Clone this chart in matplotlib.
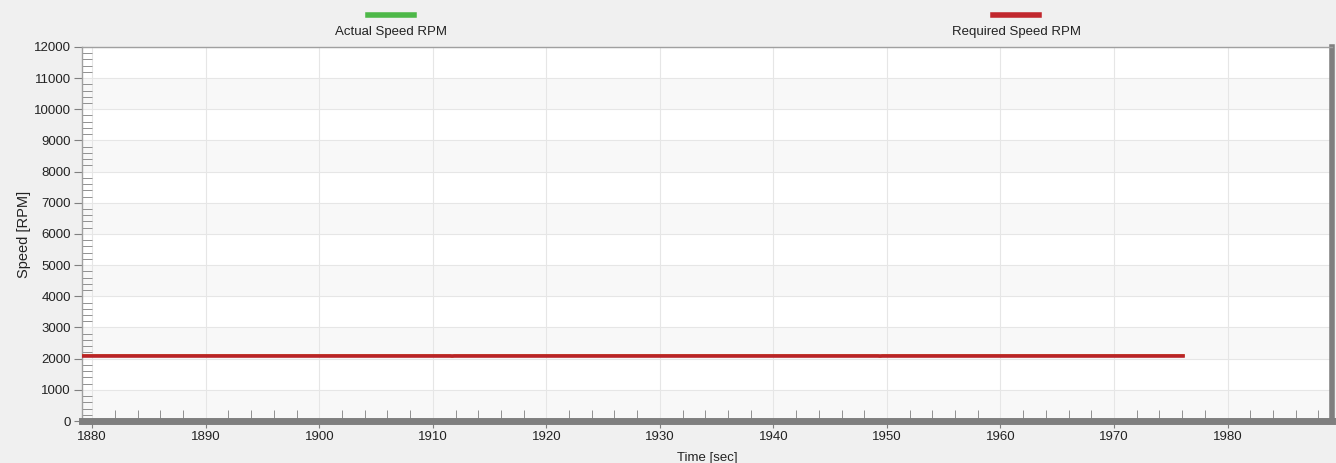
import numpy as np
import matplotlib.pyplot as plt
from matplotlib.lines import Line2D
from matplotlib.ticker import MultipleLocator

plt.rcParams['font.family'] = ['Liberation Sans', 'DejaVu Sans']

# speed traces (time in sec, speed in RPM)
req_time = [1879.0, 1976.1]
req_speed = [2100, 2100]
act_time = [1879.0, 1911.5, 1911.7, 1911.9, 1949.2, 1949.4, 1949.6, 1976.1]
act_speed = [2100, 2100, 2070, 2100, 2100, 2070, 2100, 2100]
labels = ["Actual Speed RPM", "Required Speed RPM"]
colors = ["#4db848", "#c1272d"]

fig = plt.figure(figsize=(13.36, 4.63), dpi=100, facecolor="#f0f0f0")
ax = fig.add_axes([0.0614, 0.0907, 0.9356, 0.808])
ax.set_facecolor("white")

# alternating bands
for y0 in range(0, 12000, 2000):
    ax.axhspan(y0, y0 + 1000, color="#f8f8f8", zorder=0, lw=0)

ax.plot(act_time, act_speed, color="#d9861f", lw=2.0, zorder=3)
ax.plot(req_time, req_speed, color="#b92328", lw=2.6, zorder=4)

ax.set_xlim(1879.1, 1989.2)
ax.set_ylim(0, 12000)
ax.xaxis.set_major_locator(MultipleLocator(10))
ax.xaxis.set_minor_locator(MultipleLocator(2))
ax.yaxis.set_major_locator(MultipleLocator(1000))
ax.yaxis.set_minor_locator(MultipleLocator(200))
ax.grid(True, which="major", color="#e6e6e6", lw=0.8, zorder=1)

ax.tick_params(axis="x", which="major", direction="out", length=5, color="#808080",
               labelsize=9.5, labelcolor="#222222", pad=2)
ax.tick_params(axis="x", which="minor", direction="in", length=8, color="#808080")
ax.tick_params(axis="y", which="major", direction="out", length=6, color="#808080",
               labelsize=9.5, labelcolor="#222222", pad=2)
ax.tick_params(axis="y", which="minor", direction="in", length=7, color="#808080")

for side in ["top", "left"]:
    ax.spines[side].set_color("#a0a0a0")
    ax.spines[side].set_linewidth(1)
ax.spines["bottom"].set_color("#7f7f7f")
ax.spines["bottom"].set_linewidth(5)
ax.spines["right"].set_color("#7f7f7f")
ax.spines["right"].set_linewidth(4)

ax.set_xlabel("Time [sec]", fontsize=9.5, color="#222222", labelpad=7)
ax.set_ylabel("Speed [RPM]", fontsize=10.5, color="#222222", labelpad=2)

# legend: swatch above label
for cx, lab, col in zip([391 / 1336, 1016 / 1336], labels, colors):
    fig.add_artist(Line2D([cx - 23 / 1336, cx + 23 / 1336], [1 - 15 / 463, 1 - 15 / 463],
                          color=col, lw=4, transform=fig.transFigure))
    fig.text(cx, 1 - 32 / 463, lab, ha="center", va="center", fontsize=9.5, color="#222222")

fig.savefig("out.png", dpi=100, facecolor=fig.get_facecolor())
